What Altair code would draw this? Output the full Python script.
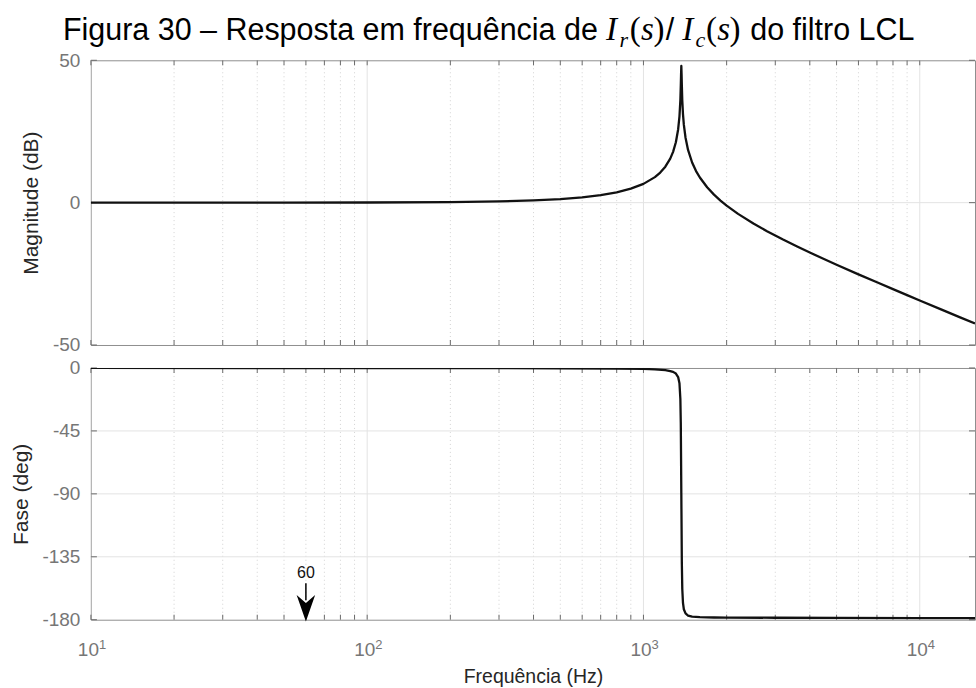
import altair as alt
import pandas as pd

# ---------------- data ----------------
freq_mag = [10, 50, 100, 200, 300, 400, 500, 600, 700, 800,
            900, 1000, 1100, 1150, 1200, 1250, 1280, 1310, 1335, 1350,
            1360, 1365, 1368, 1371, 1374, 1377, 1382, 1390, 1400, 1420,
            1450, 1500, 1550, 1600, 1700, 1800, 1900, 2000, 2200, 2500,
            2800, 3200, 3600, 4000, 4500, 5000, 6000, 7000, 8000, 9000,
            10000, 12000, 14000, 15849]
mag_db = [0.0, 0.01, 0.05, 0.19, 0.43, 0.77, 1.24, 1.85, 2.62, 3.62,
          4.90, 6.59, 8.96, 10.56, 12.62, 15.46, 17.84, 21.21, 25.71, 30.34,
          35.93, 41.2, 45.0, 48.0, 45.0, 41.1, 35.9, 31.1, 27.4, 22.8,
          18.5, 14.1, 11.1, 8.83, 5.39, 2.81, 0.72, -1.05, -3.95, -7.33,
          -10.02, -12.96, -15.41, -17.52, -19.80, -21.80, -25.18, -27.98, -30.38, -32.48,
          -34.35, -37.57, -40.28, -42.45]

freq_ph = [10, 100, 300, 500, 800, 1000, 1100, 1200, 1250, 1280,
           1310, 1335, 1350, 1360, 1365, 1368, 1371, 1374, 1377, 1382,
           1390, 1400, 1420, 1450, 1500, 1600, 1800, 2000, 3000, 5000,
           10000, 15849]
phase_deg = [0.0, -0.05, -0.1, -0.2, -0.4, -0.7, -1.0, -1.6, -2.2, -2.8,
             -4.0, -6.5, -11.0, -22.0, -40.0, -65.0, -90.0, -115.0, -140.0, -158.0,
             -168.0, -172.5, -175.5, -177.0, -177.8, -178.2, -178.4, -178.5, -178.6, -178.7,
             -178.8, -178.9]

x_domain = [10, 15849]
major_ticks = [10, 100, 1000, 10000]
major_base = "10"
major_exponents = ["1", "2", "3", "4"]
minor_ticks = [20, 30, 40, 50, 60, 70, 80, 90,
               200, 300, 400, 500, 600, 700, 800, 900,
               2000, 3000, 4000, 5000, 6000, 7000, 8000, 9000]
mag_ticks = [-50, 0, 50]
mag_grid = [0]
phase_ticks = [-180, -135, -90, -45, 0]
phase_grid = [-135, -90, -45]

arrow_freq = 60
arrow_label = "60"
arrow_label_deg = -146.4
arrow_start_deg = -154.0
arrow_end_deg = -166.0
arrow_head_deg = -171.8

# ---------------- styling ----------------
W, H1, H2 = 885, 285, 252
GRID = "#e3e3e3"
MINOR = "#d2d2d2"
TICK = "#6a6a6a"
FRAME = "#8f8f8f"
LABEL = "#767676"
TITLE = "#262626"
SANS = "Liberation Sans"
SERIF = "Liberation Serif"
LINE_W = 2.3
LFS = 19

xscale = alt.Scale(type="log", domain=x_domain, nice=False)
y1 = alt.Scale(domain=[-50, 50], nice=False)
y2 = alt.Scale(domain=[-180, 0], nice=False)

common_axis = dict(grid=False, ticks=False, domain=False, labelFontSize=LFS, labelColor=LABEL,
                   titleColor=TITLE, titleFontWeight="normal",
                   labelFont=SANS, titleFont=SANS)

x_axis_bottom = alt.Axis(values=major_ticks, labelExpr=f"'{major_base}'", title="Frequência  (Hz)",
                         labelPadding=21, titlePadding=8, labelFlush=False, labelOffset=-3,
                         titleFontSize=19.5, **common_axis)
y_axis_mag = alt.Axis(values=mag_ticks, labelExpr="'' + datum.value", title="Magnitude (dB)",
                      labelPadding=11, titlePadding=11, titleFontSize=21, **common_axis)
y_axis_ph = alt.Axis(values=phase_ticks, labelExpr="'' + datum.value", title="Fase (deg)",
                     labelPadding=11, titlePadding=10.5, titleFontSize=21, **common_axis)


def make_panel_helpers(xaxis, yaxis, yscale, h):
    def X(field):
        return alt.X(f"{field}:Q", scale=xscale, axis=xaxis,
                     title=None if xaxis is None else "Frequência  (Hz)")

    def Y(field):
        return alt.Y(f"{field}:Q", scale=yscale, axis=yaxis)

    major_df = pd.DataFrame({"f": major_ticks})
    minor_df = pd.DataFrame({"f": minor_ticks})
    ticks_df = pd.DataFrame({"f": major_ticks + minor_ticks})

    layers = [
        alt.Chart(major_df).mark_rule(color=GRID, strokeWidth=1).encode(x=X("f")),
        alt.Chart(minor_df).mark_rule(color=MINOR, strokeWidth=1, strokeDash=[1, 3]).encode(x=X("f")),
        alt.Chart(ticks_df).mark_rule(color=TICK, strokeWidth=1).encode(
            x=X("f"), y=alt.value(0), y2=alt.value(5)),
        alt.Chart(ticks_df).mark_rule(color=TICK, strokeWidth=1).encode(
            x=X("f"), y=alt.value(h), y2=alt.value(h - 5)),
    ]
    return X, Y, layers


def grid_and_yticks(Y, grid_vals, tick_vals):
    gdf = pd.DataFrame({"v": grid_vals})
    tdf = pd.DataFrame({"v": tick_vals})
    return [
        alt.Chart(gdf).mark_rule(color=GRID, strokeWidth=1).encode(y=Y("v")),
        alt.Chart(tdf).mark_rule(color=TICK, strokeWidth=1).encode(
            y=Y("v"), x=alt.value(0), x2=alt.value(6)),
        alt.Chart(tdf).mark_rule(color=TICK, strokeWidth=1).encode(
            y=Y("v"), x=alt.value(W), x2=alt.value(W - 6)),
    ]


def txt(s, x, y, size, font=SANS, style="normal", align="left", color="black"):
    return alt.Chart(pd.DataFrame({"t": [s]})).mark_text(
        align=align, baseline="alphabetic", font=font, fontSize=size,
        fontStyle=style, color=color).encode(text="t:N", x=alt.value(x), y=alt.value(y))


# ---------------- magnitude panel ----------------
X1, Y1, top_layers = make_panel_helpers(None, y_axis_mag, y1, H1)
top_layers += grid_and_yticks(Y1, mag_grid, mag_ticks)
mag_df = pd.DataFrame({"f": freq_mag, "db": mag_db})
mag_line = alt.Chart(mag_df).mark_line(color="#111111", strokeWidth=LINE_W, clip=True,
                                       strokeJoin="round").encode(
    x=X1("f"), y=Y1("db"), order="f:Q")

TY = -20
TFS, MFS, SFS = 30.5, 33, 22
title_layers = [
    txt("Figura 30 – Resposta em frequência de", -28, TY, TFS),
    txt("I", 515.7, TY, MFS, SERIF, "italic"),
    txt("r", 529.1, TY + 7, SFS, SERIF, "italic"),
    txt("(", 539.4, TY, MFS, SERIF),
    txt("s", 550.7, TY, MFS, SERIF, "italic"),
    txt(")", 563.1, TY, MFS, SERIF),
    txt("/", 575.4, TY, TFS),
    txt("I", 591.9, TY, MFS, SERIF, "italic"),
    txt("c", 605.3, TY + 7, SFS, SERIF, "italic"),
    txt("(", 615.6, TY, MFS, SERIF),
    txt("s", 626.9, TY, MFS, SERIF, "italic"),
    txt(")", 639.3, TY, MFS, SERIF),
    txt("do filtro LCL", 660, TY, TFS),
]

top = alt.layer(*top_layers, mag_line, *title_layers).properties(width=W, height=H1)

# ---------------- phase panel ----------------
X2, Y2, bot_layers = make_panel_helpers(x_axis_bottom, y_axis_ph, y2, H2)
bot_layers += grid_and_yticks(Y2, phase_grid, phase_ticks)
ph_df = pd.DataFrame({"f": freq_ph, "deg": phase_deg})
ph_line = alt.Chart(ph_df).mark_line(color="#111111", strokeWidth=LINE_W, clip=True,
                                     strokeJoin="round").encode(
    x=X2("f"), y=Y2("deg"), order="f:Q")

arrow_df = pd.DataFrame({"f": [arrow_freq], "a": [arrow_start_deg], "b": [arrow_end_deg],
                         "h": [arrow_head_deg], "lt": [arrow_label_deg], "t": [arrow_label]})
arrow_line = alt.Chart(arrow_df).mark_rule(color="black", strokeWidth=1.5).encode(
    x=X2("f"), y=Y2("a"), y2="b:Q")
arrow_head = alt.Chart(arrow_df).mark_point(
    shape="M0,1L-0.7,-1L0,-0.4L0.7,-1Z", filled=True, size=700, color="black", opacity=1
).encode(x=X2("f"), y=Y2("h"))
arrow_text = alt.Chart(arrow_df).mark_text(
    font=SANS, fontSize=16, color="#111111", align="center", baseline="middle"
).encode(x=X2("f"), y=Y2("lt"), text="t:N")

exp_df = pd.DataFrame({"f": major_ticks, "e": major_exponents})
exponents = alt.Chart(exp_df).mark_text(
    font=SANS, fontSize=13, color=LABEL, align="left", baseline="alphabetic", dx=8
).encode(x=X2("f"), y=alt.value(H2 + 29), text="e:N")

bottom = alt.layer(*bot_layers, ph_line, arrow_line, arrow_head, arrow_text, exponents).properties(
    width=W, height=H2)

chart = alt.vconcat(top, bottom, spacing=2).properties(
    padding={"left": 9, "top": 13, "right": 0, "bottom": 0},
    background="white",
).configure_view(stroke=FRAME, strokeWidth=1)

chart.save("out.html", embed_options={"renderer": "svg", "actions": False})
